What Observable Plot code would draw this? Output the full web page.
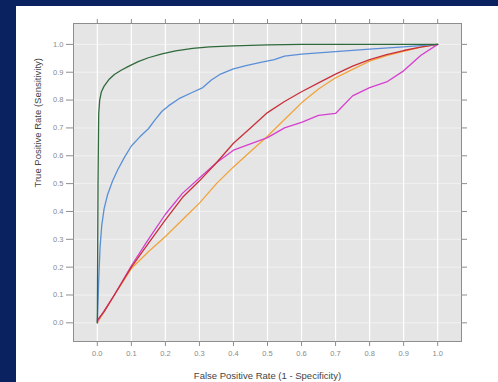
<!DOCTYPE html>
<html>
<head>
<meta charset="utf-8">
<script src="https://cdn.jsdelivr.net/npm/d3@7"></script>
<script src="https://cdn.jsdelivr.net/npm/@observablehq/plot@0.6"></script>
<style>
  html, body { margin: 0; padding: 0; }
  body { width: 498px; height: 382px; background: #0a2260; position: relative; overflow: hidden; }
  #panel { position: absolute; left: 16px; top: 6px; width: 482px; height: 376px; background: #ffffff; }
  #chart { position: absolute; left: 0; top: 0; }
</style>
</head>
<body>
<div id="panel"></div>
<div id="chart"></div>
<script>
const xTicks = [0, 0.1, 0.2, 0.3, 0.4, 0.5, 0.6, 0.7, 0.8, 0.9, 1.0];
const yTicks = [0, 0.1, 0.2, 0.3, 0.4, 0.5, 0.6, 0.7, 0.8, 0.9, 1.0];
const xTitle = "False Positive Rate (1 - Specificity)";
const yTitle = "True Positive Rate (Sensitivity)";

const greenFpr = [0, 0.002, 0.004, 0.007, 0.012, 0.02, 0.035, 0.05, 0.07, 0.09, 0.12, 0.15, 0.19, 0.23, 0.28, 0.33, 0.4, 0.5, 0.6, 1.0];
const greenTpr = [0, 0.5, 0.75, 0.8, 0.83, 0.85, 0.875, 0.892, 0.907, 0.92, 0.938, 0.952, 0.966, 0.977, 0.986, 0.991, 0.995, 0.998, 1.0, 1.0];

const blueFpr = [0, 0.004, 0.008, 0.013, 0.02, 0.03, 0.045, 0.06, 0.08, 0.1, 0.125, 0.15, 0.17, 0.19, 0.21, 0.24, 0.28, 0.31, 0.335, 0.36, 0.4, 0.44, 0.48, 0.52, 0.55, 0.6, 0.7, 0.8, 0.9, 1.0];
const blueTpr = [0, 0.15, 0.27, 0.35, 0.41, 0.46, 0.51, 0.55, 0.595, 0.635, 0.668, 0.697, 0.73, 0.76, 0.78, 0.805, 0.828, 0.845, 0.872, 0.892, 0.912, 0.925, 0.935, 0.945, 0.958, 0.965, 0.974, 0.983, 0.991, 1.0];

const redFpr = [0, 0.02, 0.05, 0.1, 0.15, 0.2, 0.25, 0.3, 0.35, 0.4, 0.45, 0.5, 0.55, 0.6, 0.65, 0.7, 0.75, 0.8, 0.85, 0.9, 0.95, 1.0];
const redTpr = [0.01, 0.04, 0.1, 0.2, 0.285, 0.37, 0.45, 0.51, 0.575, 0.645, 0.7, 0.755, 0.795, 0.83, 0.862, 0.893, 0.922, 0.945, 0.963, 0.978, 0.99, 1.0];

const orangeFpr = [0, 0.05, 0.1, 0.15, 0.2, 0.25, 0.3, 0.35, 0.4, 0.45, 0.5, 0.55, 0.6, 0.65, 0.7, 0.75, 0.8, 0.85, 0.9, 0.95, 1.0];
const orangeTpr = [0, 0.1, 0.195, 0.255, 0.31, 0.37, 0.43, 0.5, 0.56, 0.615, 0.67, 0.73, 0.79, 0.84, 0.88, 0.91, 0.94, 0.96, 0.975, 0.99, 1.0];

const magentaFpr = [0, 0.05, 0.1, 0.15, 0.2, 0.25, 0.3, 0.35, 0.4, 0.45, 0.5, 0.55, 0.6, 0.65, 0.7, 0.75, 0.8, 0.85, 0.9, 0.95, 1.0];
const magentaTpr = [0.005, 0.1, 0.205, 0.3, 0.39, 0.465, 0.52, 0.575, 0.62, 0.643, 0.665, 0.7, 0.72, 0.745, 0.752, 0.815, 0.845, 0.865, 0.905, 0.96, 1.0];

const toRows = (xs, ys) => xs.map((x, i) => ({x, y: ys[i]}));

const series = [
  {rows: toRows(orangeFpr, orangeTpr), color: "#f2a33a"},
  {rows: toRows(magentaFpr, magentaTpr), color: "#d63fcf"},
  {rows: toRows(redFpr, redTpr), color: "#c9303a"},
  {rows: toRows(blueFpr, blueTpr), color: "#5a8fd8"},
  {rows: toRows(greenFpr, greenTpr), color: "#2f6a3c"}
];

const fmt = d3.format(".1f");
const blank = () => "";

const chart = Plot.plot({
  width: 498,
  height: 382,
  marginLeft: 73,
  marginRight: 37,
  marginTop: 23,
  marginBottom: 41,
  x: {domain: [-0.07, 1.07]},
  y: {domain: [-0.067, 1.075]},
  style: {background: "transparent", fontFamily: "'Liberation Sans', Arial, sans-serif", fontSize: "7.5px", color: "#7a7a7a"},
  marks: [
    Plot.frame({fill: "#e5e5e5", stroke: null}),
    Plot.gridY(yTicks, {stroke: "#f2f2f2", strokeOpacity: 1, strokeWidth: 1}),
    Plot.gridX(xTicks, {stroke: "#ffffff", strokeOpacity: 1, strokeWidth: 1.2}),
    ...series.map(s => Plot.line(s.rows, {x: "x", y: "y", stroke: s.color, strokeWidth: 1.3})),
    Plot.frame({stroke: "#8e8e8e", strokeWidth: 1}),
    Plot.axisX(xTicks, {anchor: "bottom", tickSize: 5, tickPadding: 4, tickFormat: fmt, label: null, stroke: "#8e8e8e", fill: "#8a8a8a"}),
    Plot.axisX(xTicks, {anchor: "top", tickSize: 5, tickFormat: blank, label: null, stroke: "#8e8e8e"}),
    Plot.axisY(yTicks, {anchor: "left", tickSize: 7, tickPadding: 3, tickFormat: fmt, label: null, stroke: "#8e8e8e", fill: "#8a8a8a"}),
    Plot.axisY(yTicks, {anchor: "right", tickSize: 5, tickFormat: blank, label: null, stroke: "#8e8e8e"}),
    Plot.text([xTitle], {frameAnchor: "bottom", dy: 37, fill: "#444", fontSize: 9.5}),
    Plot.text([yTitle], {frameAnchor: "left", rotate: -90, dx: -36, dy: 5, fill: "#444", fontSize: 9.5})
  ]
});

document.getElementById("chart").appendChild(chart);
</script>
</body>
</html>
